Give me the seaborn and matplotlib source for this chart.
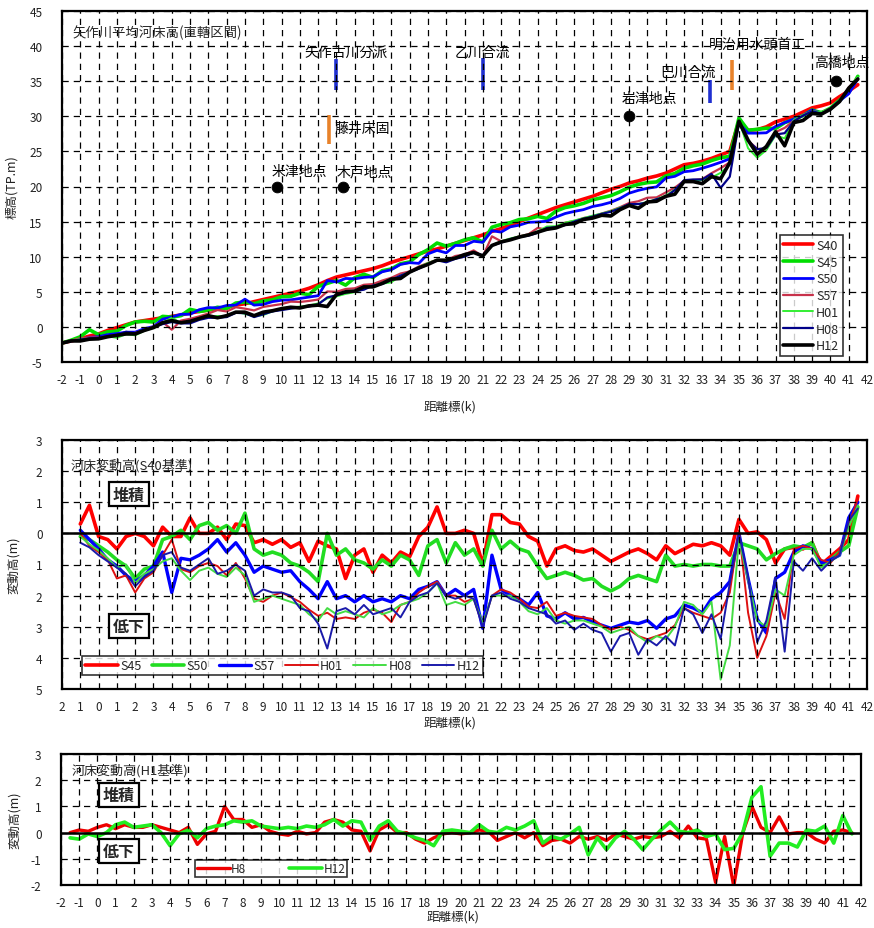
import numpy as np
import pandas as pd
import matplotlib
matplotlib.use("Agg")
import matplotlib.pyplot as plt
import seaborn as sns
from matplotlib.ticker import MultipleLocator, FixedLocator, FixedFormatter
from matplotlib.lines import Line2D

# ---------------- data ----------------
km_main = np.arange(-2.0, 41.75, 0.5)   # distance marker (k), 88 points
km_h1 = np.arange(-1.5, 41.75, 0.5)     # 87 points

# S40 mean riverbed elevation (T.P. m)
S40 = [-2.3, -2.0, -1.7, -1.3, -1.0, -0.5, -0.1, 0.3, 0.7, 0.9,
       1.1, 1.3, 1.5, 1.7, 2.0, 2.2, 2.4, 2.6, 2.8, 3.1,
       3.3, 3.6, 3.9, 4.2, 4.5, 4.8, 5.1, 5.5, 6.0, 6.6,
       7.1, 7.4, 7.7, 8.0, 8.3, 8.7, 9.2, 9.6, 10.0, 10.4,
       10.8, 11.1, 11.5, 11.9, 12.3, 12.7, 13.1, 13.6, 14.0, 14.5,
       15.0, 15.5, 16.0, 16.5, 17.0, 17.4, 17.8, 18.2, 18.6, 19.1,
       19.6, 20.0, 20.5, 20.8, 21.2, 21.5, 21.9, 22.5, 23.1, 23.3,
       23.6, 24.0, 24.5, 25.0, 29.3, 28.0, 28.1, 28.5, 29.2, 29.6,
       30.0, 30.6, 31.2, 31.5, 31.9, 32.8, 33.6, 34.5]

# riverbed change relative to S40 (m)
dS45 = [0.0, 0.1, 0.3, 0.9, -0.1, -0.2, -0.5, -0.1, 0.0, -0.1,
        -0.4, 0.2, -0.1, -0.1, 0.5, 0.0, 0.0, 0.2, -0.2, 0.3,
        0.25, -0.3, -0.2, -0.35, -0.2, -0.45, -0.3, -0.9, -0.25, -0.4,
        -0.5, -1.45, -0.7, -0.5, -1.25, -0.7, -0.95, -0.6, -0.75, -0.1,
        0.2, 0.85, 0.0, 0.0, 0.1, 0.0, -1.0, 0.6, 0.6, 0.35,
        0.3, -0.1, -0.25, -1.05, -0.5, -0.4, -0.55, -0.6, -0.5, -0.7,
        -0.9, -0.75, -0.6, -0.5, -0.65, -0.85, -0.4, -0.65, -0.5, -0.35,
        -0.4, -0.3, -0.4, -0.7, 0.45, 0.0, 0.05, -0.2, -0.95, -0.5,
        -0.45, -0.5, -0.3, -1.0, -0.75, -0.5, -0.2, 1.2]
dS50 = [0.0, 0.0, -0.1, -0.2, -0.4, -0.6, -0.85, -1.05, -1.45, -1.15,
        -1.05, -0.2, -0.1, 0.1, -0.2, 0.25, 0.35, 0.1, 0.25, 0.0,
        0.65, -0.5, -0.7, -0.6, -0.7, -0.95, -1.05, -1.25, -1.55, 0.0,
        -0.7, -0.5, -0.85, -0.95, -1.15, -0.85, -1.05, -0.7, -0.85, -1.35,
        -0.4, -0.2, -0.95, -0.3, -0.7, -0.5, -1.05, 0.1, -0.5, -0.25,
        -0.5, -0.6, -1.05, -1.45, -1.35, -1.25, -1.35, -1.5, -1.45, -1.7,
        -1.85, -1.7, -1.45, -1.35, -1.45, -1.55, -0.7, -1.05, -1.0, -1.05,
        -1.0, -1.0, -1.05, -1.05, -0.3, -0.4, -0.5, -0.85, -0.65, -0.5,
        -0.4, -0.45, -0.3, -1.05, -0.85, -0.6, -0.4, 0.85]
dS57 = [0.0, 0.05, 0.1, -0.2, -0.5, -0.85, -1.05, -1.35, -1.55, -1.35,
        -1.05, -0.6, -1.9, -0.8, -0.85, -0.7, -0.5, -0.2, -0.6, -0.3,
        -0.7, -1.25, -1.05, -1.15, -1.25, -1.2, -1.55, -1.8, -2.1, -1.55,
        -2.1, -2.0, -2.2, -2.0, -2.2, -2.1, -2.2, -2.0, -2.1, -1.8,
        -1.7, -1.55, -2.0, -1.8, -2.0, -1.8, -3.05, -0.7, -1.8, -2.0,
        -2.1, -2.3, -1.9, -2.65, -2.75, -2.55, -2.75, -2.7, -2.85, -2.95,
        -3.05, -2.95, -2.85, -2.9, -2.8, -3.05, -2.75, -2.65, -2.3, -2.4,
        -2.55, -2.1, -1.9, -1.55, 0.0, -1.45, -2.75, -3.2, -1.45, -1.25,
        -0.6, -0.4, -0.5, -0.95, -0.85, -0.7, 0.5, 1.0]
dH01 = [0.0, 0.0, 0.0, -0.4, -0.6, -0.85, -1.45, -1.35, -1.9, -1.45,
        -1.25, -0.7, -0.2, -1.15, -1.25, -1.05, -0.95, -1.05, -1.35, -0.95,
        -1.45, -2.1, -2.2, -2.0, -1.9, -2.05, -2.2, -2.45, -2.65, -2.55,
        -2.75, -2.7, -2.75, -2.55, -2.45, -2.55, -2.85, -2.3, -2.2, -1.9,
        -1.7, -1.55, -2.0, -2.0, -2.2, -2.1, -2.95, -2.0, -1.8, -1.9,
        -2.1, -2.35, -2.4, -2.2, -2.65, -2.55, -2.65, -2.7, -2.75, -2.95,
        -3.1, -3.0, -3.1, -3.3, -3.4, -3.3, -3.2, -2.95, -2.4, -2.55,
        -2.65, -2.75, -2.55, -1.9, 0.1, -2.55, -4.0, -3.3, -1.9, -2.75,
        -0.5, -0.4, -0.5, -0.85, -0.95, -0.6, 0.3, 1.1]
dH08 = [0.0, 0.0, -0.1, -0.35, -0.55, -0.8, -1.1, -1.0, -1.6, -1.3,
        -1.15, -0.9, -0.8, -1.2, -1.5, -1.2, -1.1, -1.3, -1.4, -1.1,
        -1.35, -2.2, -2.1, -2.0, -2.1, -2.2, -2.3, -2.6, -2.8, -2.4,
        -2.6, -2.5, -2.6, -2.7, -2.4, -2.6, -2.5, -2.3, -2.2, -2.1,
        -1.9, -1.6, -2.3, -2.2, -2.3, -2.1, -2.9, -2.0, -2.0, -2.0,
        -2.2, -2.5, -2.6, -2.4, -2.8, -2.9, -2.8, -2.8, -2.9, -3.0,
        -3.2, -3.1, -3.0, -3.3, -3.5, -3.3, -3.4, -3.0, -2.2, -2.3,
        -2.6, -2.2, -4.7, -3.6, -0.2, -1.5, -2.8, -3.0, -1.8, -2.0,
        -0.7, -0.5, -0.5, -1.1, -0.9, -0.7, 0.2, 0.9]
dH12 = [0.0, 0.0, -0.3, -0.45, -0.7, -0.9, -1.1, -1.3, -1.7, -1.4,
        -1.2, -0.7, -0.6, -1.1, -1.2, -1.0, -0.8, -1.3, -1.2, -1.0,
        -1.2, -2.0, -1.8, -1.9, -1.9, -2.0, -2.4, -2.5, -2.9, -3.7,
        -2.5, -2.4, -2.6, -2.3, -2.6, -2.5, -2.4, -2.7, -2.2, -2.0,
        -1.9, -1.6, -2.0, -2.1, -2.0, -2.1, -3.0, -2.0, -1.9, -2.1,
        -2.2, -2.4, -2.5, -2.6, -2.9, -2.8, -3.1, -2.9, -3.1, -3.2,
        -3.8, -3.3, -3.2, -3.9, -3.4, -3.6, -3.3, -3.6, -2.4, -2.6,
        -3.2, -2.6, -3.4, -1.6, 0.0, -1.4, -3.5, -2.8, -1.4, -3.8,
        -0.9, -1.2, -0.8, -1.2, -0.9, -0.7, 0.4, 0.8]

# riverbed change relative to H1 (m)
H8_vs_H1 = [0.0, 0.1, 0.05, 0.2, 0.3, 0.15, 0.3, 0.2, 0.2, 0.3,
            0.2, 0.1, 0.0, 0.2, -0.45, -0.05, 0.05, 1.0, 0.5, 0.5,
            0.2, 0.3, 0.05, -0.05, -0.1, 0.05, -0.05, 0.0, 0.4, 0.5,
            0.4, 0.1, 0.05, -0.7, 0.1, 0.3, 0.0, 0.0, -0.25, -0.4,
            -0.2, -0.05, 0.0, -0.05, 0.0, 0.1, 0.05, -0.3, -0.15, 0.0,
            -0.2, 0.0, -0.5, -0.3, -0.25, -0.4, -0.15, -0.25, -0.15, -0.3,
            -0.05, -0.15, -0.25, -0.15, -0.2, -0.15, 0.05, -0.2, 0.25, -0.2,
            -0.25, -1.9, -0.15, -2.05, 0.0, 1.0, 0.2, 0.0, 0.6, -0.05,
            0.0, 0.0, -0.25, -0.4, 0.05, 0.1, 0.0]
H12_vs_H1 = [-0.2, -0.25, -0.05, -0.15, 0.0, 0.3, 0.4, 0.2, 0.25, 0.3,
             0.0, -0.5, -0.05, 0.1, -0.2, 0.15, 0.25, 0.3, 0.45, 0.4,
             0.45, 0.25, 0.2, 0.15, 0.2, 0.15, 0.25, 0.2, 0.3, 0.5,
             0.25, 0.45, 0.4, -0.3, 0.25, 0.45, 0.05, -0.05, -0.2, -0.3,
             -0.5, 0.05, 0.1, 0.05, 0.0, 0.3, 0.05, 0.0, 0.2, 0.1,
             0.25, 0.45, -0.4, -0.15, -0.25, -0.05, 0.2, -0.85, -0.2, -0.65,
             -0.2, 0.05, -0.25, -0.65, -0.25, 0.1, 0.4, 0.05, 0.0, 0.1,
             -0.15, -0.05, -0.65, -0.6, 0.0, 1.35, 1.75, -0.9, -0.4, -0.4,
             -0.55, 0.1, 0.05, 0.25, -0.4, 0.65, -0.05]

# landmarks
bar_names = ["矢作古川分派", "藤井床固", "乙川合流", "巴川合流", "明治用水頭首工"]
bar_km = [13.0, 12.6, 21.0, 33.4, 34.6]
bar_lo = [33.8, 26.0, 33.8, 31.9, 33.8]
bar_hi = [38.2, 30.2, 38.3, 35.2, 38.0]
station_names = ["米津地点", "木戸地点", "岩津地点", "高橋地点"]
station_km = [9.75, 13.35, 29.0, 40.3]
station_elev = [20.0, 20.0, 30.0, 35.0]

# ---------------- style ----------------
sns.set_theme(style="white")
plt.rcParams['font.family'] = ['Noto Sans CJK JP', 'DejaVu Sans']
plt.rcParams['axes.unicode_minus'] = False

fig = plt.figure(figsize=(8.74, 9.29), dpi=100)
W, H = 874.0, 929.0
ax1 = fig.add_axes([62 / W, 1 - 363 / H, 805 / W, 351 / H])
ax2 = fig.add_axes([62 / W, 1 - 690 / H, 805 / W, 249 / H])
ax3 = fig.add_axes([61 / W, 1 - 886 / H, 800 / W, 131 / H])

grid_kw = dict(color='black', linestyle=(0, (5, 4)), linewidth=0.9)
tick_col = '#222222'


def style_axis(ax):
    for s in ax.spines.values():
        s.set_color('black')
        s.set_linewidth(1.6)
    ax.grid(True, which='major', **grid_kw)
    ax.set_axisbelow(False)
    ax.tick_params(axis='both', which='major', direction='in', length=4,
                   width=1, color='black', labelsize=8.5, labelcolor=tick_col)
    ax.tick_params(axis='y', which='major', pad=14)
    ax.tick_params(axis='x', which='major', pad=8)
    ax.tick_params(axis='y', which='minor', direction='in', length=2.5,
                   width=0.8, color='black')
    ax.tick_params(axis='x', which='minor', length=0)


# ---------------- top panel ----------------
top_names = ["S40", "S45", "S50", "S57", "H01", "H08", "H12"]
deltas = [np.zeros(len(S40)), dS45, dS50, dS57, dH01, dH08, dH12]
top_colors = ['#ff0000', '#00dd00', '#0000ff', '#c8324b', '#33ee33', '#000088', '#000000']
top_lw = [2.6, 2.6, 2.0, 1.6, 1.4, 1.6, 2.6]
S40_arr = np.array(S40)
top_handles = []
for name, d, c, lw in zip(top_names, deltas, top_colors, top_lw):
    elev = S40_arr + np.array(d)
    sns.lineplot(x=km_main, y=elev, ax=ax1, color=c, linewidth=lw, legend=False)
    top_handles.append(Line2D([], [], color=c, lw=lw, label=name))

ax1.set_xlim(-2, 42)
ax1.set_ylim(-5, 45)
ax1.xaxis.set_major_locator(FixedLocator(range(-2, 43)))
ax1.xaxis.set_major_formatter(FixedFormatter([str(k) for k in range(-2, 43)]))
ax1.yaxis.set_major_locator(MultipleLocator(5))
ax1.yaxis.set_minor_locator(MultipleLocator(1))
style_axis(ax1)
ax1.set_xlabel("距離標(k)", fontsize=9, color=tick_col)
ax1.xaxis.set_label_coords(0.482, -0.108)
ax1.set_ylabel("標高(TP.m)", fontsize=9, color=tick_col)
ax1.yaxis.set_label_coords(-0.055, 0.5)

ax1.text(-1.45, 42.0, "矢作川平均河床高(直轄区間)", fontsize=9.6, va='center', ha='left')

bar_colors = ['#1f2fd0', '#e8822a', '#1f2fd0', '#1f2fd0', '#e8822a']
bar_label_pos = [(13.5, 39.2, 'center'), (12.9, 28.3, 'left'), (21.0, 39.2, 'center'),
                 (32.2, 36.3, 'center'), (36.0, 40.3, 'center')]
for nm, k, lo, hi, c, (tx, ty, ha) in zip(bar_names, bar_km, bar_lo, bar_hi, bar_colors, bar_label_pos):
    ax1.plot([k, k], [lo, hi], color=c, lw=2.6, solid_capstyle='butt')
    ax1.text(tx, ty, nm, fontsize=10, ha=ha, va='center', color='black')

sns.scatterplot(x=station_km, y=station_elev, ax=ax1, color='black', s=60,
                edgecolor='black', legend=False, zorder=5)
station_label_pos = [(10.95, 22.2), (14.55, 22.2), (30.1, 32.6), (40.6, 37.7)]
for nm, (tx, ty) in zip(station_names, station_label_pos):
    ax1.text(tx, ty, nm, fontsize=10, ha='center', va='center', color='black')

leg1 = ax1.legend(handles=top_handles, loc='lower right', bbox_to_anchor=(0.970, 0.017),
                  fontsize=9, frameon=True, fancybox=False, edgecolor='black',
                  handlelength=2.4, handletextpad=0.2, labelspacing=0.3,
                  borderpad=0.3, borderaxespad=0)
leg1.get_frame().set_linewidth(1.2)
leg1.set_zorder(10)

# ---------------- middle panel ----------------
mid_names = ["S45", "S50", "S57", "H01", "H08", "H12"]
mid_data = [dS45, dS50, dS57, dH01, dH08, dH12]
mid_colors = ['#ff0000', '#22dd22', '#0000ff', '#dd1111', '#44dd44', '#1a1aaa']
mid_lw = [2.6, 2.6, 2.4, 1.4, 1.4, 1.4]
mask = km_main >= -1
mid_handles = []
for name, d, c, lw in zip(mid_names, mid_data, mid_colors, mid_lw):
    sns.lineplot(x=km_main[mask], y=np.array(d)[mask], ax=ax2, color=c, linewidth=lw, legend=False)
    mid_handles.append(Line2D([], [], color=c, lw=lw, label=name))
ax2.axhline(0, color='black', lw=1.8, zorder=4)
ax2.set_xlim(-2, 42)
ax2.set_ylim(-5, 3)
ax2.xaxis.set_major_locator(FixedLocator(range(-2, 43)))
ax2.xaxis.set_major_formatter(FixedFormatter([str(abs(k)) for k in range(-2, 43)]))
ax2.yaxis.set_major_locator(FixedLocator(list(range(3, -6, -1))))
ax2.yaxis.set_major_formatter(FixedFormatter([str(abs(v)) for v in range(3, -6, -1)]))
ax2.yaxis.set_minor_locator(MultipleLocator(0.5))
style_axis(ax2)
ax2.set_xlabel("距離標(k)", fontsize=9, color=tick_col)
ax2.xaxis.set_label_coords(0.482, -0.107)
ax2.set_ylabel("変動高(m)", fontsize=9, color=tick_col)
ax2.yaxis.set_label_coords(-0.052, 0.5)
ax2.text(-1.55, 2.2, "河床変動高(S40基準)", fontsize=9.4, va='center', ha='left')
box_kw = dict(boxstyle='square,pad=0.25', facecolor='white', edgecolor='black', linewidth=1.6)
ax2.text(1.66, 1.25, "堆積", fontsize=11.5, fontweight='bold', ha='center', va='center', bbox=box_kw, zorder=6)
ax2.text(1.66, -2.97, "低下", fontsize=11.5, fontweight='bold', ha='center', va='center', bbox=box_kw, zorder=6)
leg2 = ax2.legend(handles=mid_handles, ncol=6, loc='lower left',
                  bbox_to_anchor=(0.025, 0.056, 0.498, 0.093), mode='expand',
                  fontsize=9, frameon=True, fancybox=False, edgecolor='black',
                  handlelength=2.6, handletextpad=0.2, columnspacing=0.6,
                  borderpad=0.25, borderaxespad=0)
leg2.get_frame().set_linewidth(1.2)
leg2.set_zorder(10)

# ---------------- bottom panel ----------------
sns.lineplot(x=km_h1, y=H8_vs_H1, ax=ax3, color='#ee0000', linewidth=2.4, legend=False)
sns.lineplot(x=km_h1, y=H12_vs_H1, ax=ax3, color='#22ee22', linewidth=2.6, legend=False)
ax3.axhline(0, color='black', lw=1.8, zorder=4)
ax3.set_xlim(-2, 42)
ax3.set_ylim(-2, 3)
ax3.xaxis.set_major_locator(FixedLocator(range(-2, 43)))
ax3.xaxis.set_major_formatter(FixedFormatter([str(k) for k in range(-2, 43)]))
ax3.yaxis.set_major_locator(MultipleLocator(1))
ax3.yaxis.set_minor_locator(MultipleLocator(0.5))
style_axis(ax3)
ax3.set_xlabel("距離標(k)", fontsize=9, color=tick_col)
ax3.xaxis.set_label_coords(0.49, -0.19)
ax3.set_ylabel("変動高(m)", fontsize=9, color=tick_col)
ax3.yaxis.set_label_coords(-0.05, 0.5)
ax3.text(-1.4, 2.4, "河床変動高(H1基準)", fontsize=9.4, va='center', ha='left')
ax3.text(1.19, 1.45, "堆積", fontsize=11.5, fontweight='bold', ha='center', va='center', bbox=box_kw, zorder=6)
ax3.text(1.19, -0.7, "低下", fontsize=11.5, fontweight='bold', ha='center', va='center', bbox=box_kw, zorder=6)
bot_handles = [Line2D([], [], color='#ee0000', lw=2.4, label='H8'),
               Line2D([], [], color='#22ee22', lw=2.6, label='H12')]
leg3 = ax3.legend(handles=bot_handles, ncol=2, loc='lower left',
                  bbox_to_anchor=(0.1675, 0.061, 0.19, 0.137), mode='expand',
                  fontsize=8.5, frameon=True, fancybox=False, edgecolor='black',
                  handlelength=2.8, handletextpad=0.1, columnspacing=0.8,
                  borderpad=0.15, borderaxespad=0)
leg3.get_frame().set_linewidth(1.2)
leg3.set_zorder(10)

fig.savefig("out.png", dpi=100, facecolor='white')
